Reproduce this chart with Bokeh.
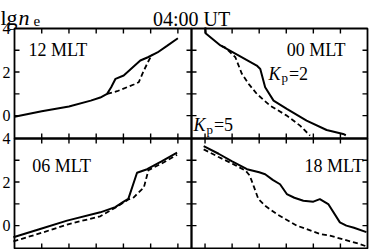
from bokeh.plotting import figure
from bokeh.models import Range1d, Label
from bokeh.embed import file_html
from bokeh.resources import INLINE

# ---- axis limits / ticks ----
L_MIN, L_MAX = 1.5, 8.0
V_MIN, V_MAX = -1.05, 4.0
X_TICKS = [2, 3, 4, 5, 6, 7]
Y_TICKS = [0, 1, 2, 3]
Y_LABELS = [4, 2, 0]

# ---- 12 MLT (top left) ----
mlt12_solid_L = [8.0, 7.0, 6.0, 5.2, 4.85, 4.6, 4.45, 4.29, 3.99, 3.38, 3.1, 2.75, 2.4, 2.0]
mlt12_solid_v = [-0.05, 0.2, 0.42, 0.69, 0.83, 1.0, 1.3, 1.69, 1.84, 2.53, 2.68, 2.9, 3.2, 3.55]
mlt12_dash_L = [4.6, 4.23, 3.62, 3.44, 3.25, 3.07, 2.95]
mlt12_dash_v = [1.0, 1.12, 1.43, 1.53, 2.07, 2.53, 2.8]

# ---- 00 MLT (top right) ----
mlt00_solid_L = [2.01, 2.03, 2.57, 3.2, 3.91, 4.04, 4.22, 4.53, 5.02, 5.75, 6.49, 7.1, 7.2]
mlt00_solid_v = [4.05, 3.77, 3.22, 2.79, 2.3, 2.14, 1.3, 0.69, 0.31, -0.23, -0.66, -0.84, -0.9]
mlt00_dash_L = [2.6, 2.75, 3.12, 3.36, 3.61, 3.91, 4.4, 5.02, 5.51, 5.88]
mlt00_dash_v = [3.2, 3.12, 2.68, 1.92, 1.46, 1.0, 0.46, 0.0, -0.46, -0.92]

# ---- 06 MLT (bottom left) ----
mlt06_solid_L = [8.04, 7.0, 6.07, 4.85, 4.3, 3.99, 3.82, 3.5, 3.13, 2.6, 2.03]
mlt06_solid_v = [-0.53, -0.13, 0.23, 0.61, 0.85, 1.1, 1.23, 2.43, 2.59, 2.95, 3.35]
mlt06_dash_L = [8.04, 7.0, 6.07, 4.85, 4.3, 3.82, 3.63, 3.25, 3.08, 2.6, 2.03]
mlt06_dash_v = [-0.72, -0.33, 0.05, 0.43, 0.82, 1.2, 1.29, 1.75, 2.55, 2.85, 3.25]

# ---- 18 MLT (bottom right) ----
mlt18_solid_L = [1.95, 2.5, 3.0, 3.55, 4.0, 4.22, 4.5, 4.77, 5.02, 5.3, 5.63, 6.0, 6.24, 6.55, 6.98, 7.22, 7.5, 7.96]
mlt18_solid_v = [3.65, 3.3, 2.95, 2.59, 2.45, 2.36, 2.1, 1.9, 1.45, 1.28, 1.14, 1.1, 1.22, 0.99, 0.15, 0.0, -0.1, -0.3]
mlt18_dash_L = [1.95, 2.5, 3.0, 3.5, 3.65, 3.8, 3.97, 4.22, 4.65, 5.39, 6.24, 6.61, 7.71, 7.95]
mlt18_dash_v = [3.5, 3.15, 2.85, 2.52, 2.3, 1.8, 1.22, 0.91, 0.53, 0.0, -0.38, -0.46, -0.84, -0.95]

PANEL_NAMES = ["12 MLT", "00 MLT", "06 MLT", "18 MLT"]
TITLE = "04:00 UT"
KP_VALUES = ["2", "5"]

FONT = "Liberation Serif"
INK = "black"

# ---- layout (pixel geometry of the panel grid inside the canvas) ----
W, H = 369, 249
PX_LEFT, PX_MID, PX_RIGHT = 14, 191, 367
PY_TOP, PY_MID, PY_BOT = 28, 138, 248
TICK_PX = 5

span = L_MAX - L_MIN
vspan = V_MAX - V_MIN
kl = (PX_MID - PX_LEFT) / span
kr = (PX_RIGHT - PX_MID) / span
kt = (PY_MID - PY_TOP) / vspan
kb = (PY_BOT - PY_MID) / vspan

right_range = Range1d(L_MIN - PX_MID / kr, L_MAX + (W - PX_RIGHT) / kr)
left_range = Range1d(L_MAX + PX_LEFT / kl, L_MIN - (W - PX_MID) / kl)
top_range = Range1d(V_MIN - (H - PY_MID) / kt, V_MAX + PY_TOP / kt)
bottom_range = Range1d(V_MIN - (H - PY_BOT) / kb, V_MAX + PY_MID / kb)

p = figure(width=W, height=H, output_backend="svg", toolbar_location=None, title=None,
           x_range=right_range, y_range=top_range,
           x_axis_location=None, y_axis_location=None,
           min_border_left=0, min_border_right=0, min_border_top=0, min_border_bottom=0)
p.extra_x_ranges = {"left": left_range}
p.extra_y_ranges = {"bottom": bottom_range}
p.xgrid.visible = False
p.ygrid.visible = False
p.outline_line_color = None
p.background_fill_color = "white"
p.border_fill_color = "white"

panels = [
    ("left", "default", kl, kt, mlt12_solid_L, mlt12_solid_v, mlt12_dash_L, mlt12_dash_v),
    ("default", "default", kr, kt, mlt00_solid_L, mlt00_solid_v, mlt00_dash_L, mlt00_dash_v),
    ("left", "bottom", kl, kb, mlt06_solid_L, mlt06_solid_v, mlt06_dash_L, mlt06_dash_v),
    ("default", "bottom", kr, kb, mlt18_solid_L, mlt18_solid_v, mlt18_dash_L, mlt18_dash_v),
]

for xr, yr, kx, ky, sL, sv, dL, dv in panels:
    # panel frame
    p.quad(left=[L_MAX], right=[L_MIN], top=[V_MAX], bottom=[V_MIN], x_range_name=xr,
           y_range_name=yr, fill_color=None, line_color=INK, line_width=1.8)
    # inward tick marks
    dL_t = TICK_PX / kx
    dv_t = TICK_PX / ky
    n = len(X_TICKS)
    p.segment(x0=X_TICKS, y0=[V_MAX] * n, x1=X_TICKS, y1=[V_MAX - dv_t] * n,
              x_range_name=xr, y_range_name=yr, line_color=INK, line_width=1.4)
    p.segment(x0=X_TICKS, y0=[V_MIN] * n, x1=X_TICKS, y1=[V_MIN + dv_t] * n,
              x_range_name=xr, y_range_name=yr, line_color=INK, line_width=1.4)
    m = len(Y_TICKS)
    p.segment(x0=[L_MAX] * m, y0=Y_TICKS, x1=[L_MAX - dL_t] * m, y1=Y_TICKS,
              x_range_name=xr, y_range_name=yr, line_color=INK, line_width=1.4)
    p.segment(x0=[L_MIN] * m, y0=Y_TICKS, x1=[L_MIN + dL_t] * m, y1=Y_TICKS,
              x_range_name=xr, y_range_name=yr, line_color=INK, line_width=1.4)
    # curves
    p.line(dL, dv, x_range_name=xr, y_range_name=yr, line_color=INK,
           line_width=1.8, line_dash="5 3")
    p.line(sL, sv, x_range_name=xr, y_range_name=yr, line_color=INK, line_width=2.0)

# y tick labels
for yr in ["default", "bottom"]:
    for v in Y_LABELS:
        p.add_layout(Label(x=L_MAX, y=v, x_range_name="left", y_range_name=yr, text=str(v),
                           x_offset=-4, text_align="right", text_baseline="middle",
                           text_font=FONT, text_font_size="16px", text_color=INK))

# title: lg n_e   and   04:00 UT
p.add_layout(Label(x=L_MAX, y=V_MAX, x_range_name="left", x_offset=-14, y_offset=11,
                   text="lg", text_font=FONT, text_font_size="22px", text_color=INK,
                   text_baseline="alphabetic"))
p.add_layout(Label(x=L_MAX, y=V_MAX, x_range_name="left", x_offset=4, y_offset=11,
                   text="n", text_font=FONT, text_font_size="22px", text_font_style="italic",
                   text_color=INK, text_baseline="alphabetic"))
p.add_layout(Label(x=L_MAX, y=V_MAX, x_range_name="left", x_offset=19, y_offset=8,
                   text="e", text_font=FONT, text_font_size="15px", text_color=INK,
                   text_baseline="alphabetic"))
p.add_layout(Label(x=L_MIN, y=V_MAX, y_offset=9.5, text=TITLE, text_align="center",
                   text_font=FONT, text_font_size="20px", text_color=INK,
                   text_baseline="alphabetic"))

# panel labels
label_pos = [
    ("left", "default", 7.49, 3.0, "left"),
    ("default", "default", 7.19, 3.02, "right"),
    ("left", "bottom", 7.35, 2.76, "left"),
    ("default", "bottom", 7.85, 2.76, "right"),
]
for name, (xr, yr, lx, ly, al) in zip(PANEL_NAMES, label_pos):
    p.add_layout(Label(x=lx, y=ly, x_range_name=xr, y_range_name=yr, text=name, text_align=al,
                       text_baseline="alphabetic", text_font=FONT, text_font_size="18px",
                       text_color=INK))

# Kp labels
kp_pos = [(4.34, 1.93), (1.57, -0.45)]
for kp, (lx, ly) in zip(KP_VALUES, kp_pos):
    p.add_layout(Label(x=lx, y=ly, text="K", text_font=FONT, text_font_size="18px",
                       text_font_style="italic", text_color=INK, text_baseline="alphabetic"))
    p.add_layout(Label(x=lx, y=ly, x_offset=13, y_offset=-4, text="p", text_font=FONT,
                       text_font_size="13px", text_color=INK, text_baseline="alphabetic"))
    p.add_layout(Label(x=lx, y=ly, x_offset=20.5, text="=" + kp, text_font=FONT,
                       text_font_size="18px", text_color=INK, text_baseline="alphabetic"))

open("out.html", "w").write(file_html(p, INLINE))
